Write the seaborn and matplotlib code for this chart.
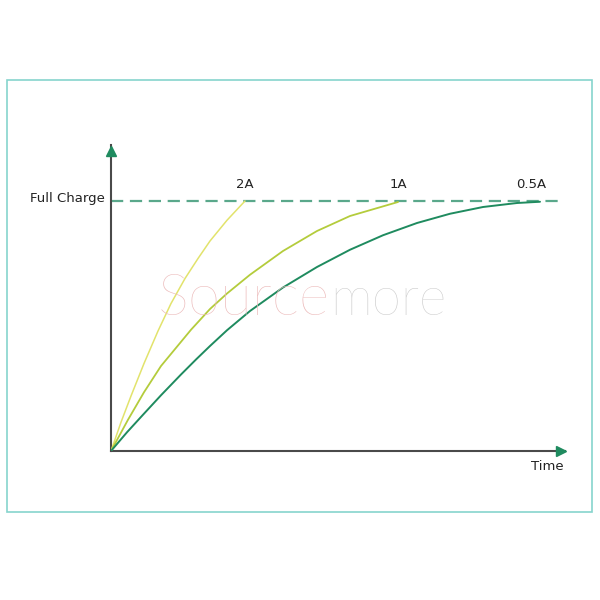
import matplotlib
matplotlib.use("Agg")
import matplotlib.pyplot as plt
from matplotlib.patches import Rectangle
import seaborn as sns
import pandas as pd

# ---- data (time units, charge %) ----
t_2a = [0, 0.10, 0.20, 0.33, 0.47, 0.60, 0.74, 0.87, 0.99, 1.16, 1.34]
c_2a = [0, 11.5, 22, 35, 48, 59, 69, 77, 84, 92.3, 100]

t_1a = [0, 0.17, 0.33, 0.50, 0.80, 0.99, 1.16, 1.39, 1.72, 2.06, 2.39, 2.87]
c_1a = [0, 12.5, 23.5, 34, 48.5, 56.8, 63, 70.5, 80, 88, 94, 99.6]

t_05a = [0, 0.16, 0.32, 0.50, 0.70, 0.85, 0.99, 1.16, 1.39, 1.72, 2.06, 2.39,
         2.72, 3.06, 3.39, 3.72, 4.06, 4.29]
c_05a = [0, 7.5, 14.5, 22.3, 30.6, 36.6, 42, 48.3, 56, 65.4, 73.6, 80.5,
         86.3, 91.2, 94.9, 97.6, 99.2, 99.7]

series_names = ["2A", "1A", "0.5A"]
series_colors = ["#e2e36c", "#b4cc3c", "#1f8b5f"]
full_charge = 100
full_charge_label = "Full Charge"
x_label = "Time"

frames = []
for name, t, c in zip(series_names, [t_2a, t_1a, t_05a], [c_2a, c_1a, c_05a]):
    frames.append(pd.DataFrame({"time": t, "charge": c, "current": name}))
df = pd.concat(frames, ignore_index=True)

sns.set_style("white")
plt.rcParams["font.family"] = ["DejaVu Sans"]

fig = plt.figure(figsize=(6, 6), dpi=100)
ax = fig.add_axes([111 / 600, 149 / 600, 454 / 600, 306 / 600])
ax.set_xlim(0, 4.54)
ax.set_ylim(0, 122.4)

# outer frame
fig.patches.append(Rectangle((7 / 600, 88 / 600), 585 / 600, 432 / 600,
                             transform=fig.transFigure, fill=False,
                             edgecolor="#86d4cd", linewidth=1.2))

# watermark
fig.text(330 / 600, 285 / 600, "Source", ha="right", va="baseline",
         fontsize=42, color="#ecbaba", family="Lato", fontweight="light", zorder=0)
fig.text(330 / 600, 285 / 600, "more", ha="left", va="baseline",
         fontsize=38, color="#cacaca", family="Lato", fontweight="light", zorder=0)

# dashed full-charge line
ax.plot([0, 4.49], [full_charge, full_charge], linestyle=(0, (5.5, 3)),
        color="#5aa88b", linewidth=1.6, zorder=1)

sns.lineplot(data=df, x="time", y="charge", hue="current", sort=False,
             palette=dict(zip(series_names, series_colors)),
             legend=False, ax=ax, zorder=3)
for line, lw in zip(ax.lines[1:], [1.1, 1.3, 1.4]):
    line.set_linewidth(lw)
    line.set_solid_capstyle("round")
    line.set_solid_joinstyle("round")

# axes with arrows
for s in ["top", "right"]:
    ax.spines[s].set_visible(False)
for s in ["left", "bottom"]:
    ax.spines[s].set_color("#4a4a4a")
    ax.spines[s].set_linewidth(1.5)
ax.set_xticks([])
ax.set_yticks([])
ax.set_xlabel("")
ax.set_ylabel("")
ax.plot([0], [120.2], marker="^", markersize=7, color="#1f8b5f", clip_on=False, zorder=5)
ax.plot([4.50], [0], marker=">", markersize=7, color="#1f8b5f", clip_on=False, zorder=5)

# labels
ax.text(-0.06, full_charge + 1, full_charge_label, ha="right", va="center",
        fontsize=9.5, color="#222222")
ends = [t_2a[-1], t_1a[-1], 4.20]
for name, xe in zip(series_names, ends):
    ax.text(xe, 106.5, name, ha="center", va="center", fontsize=9.5, color="#222222")
ax.text(4.36, -6.2, x_label, ha="center", va="center", fontsize=9.5, color="#222222")

fig.savefig("out.png", dpi=100, facecolor="white")
